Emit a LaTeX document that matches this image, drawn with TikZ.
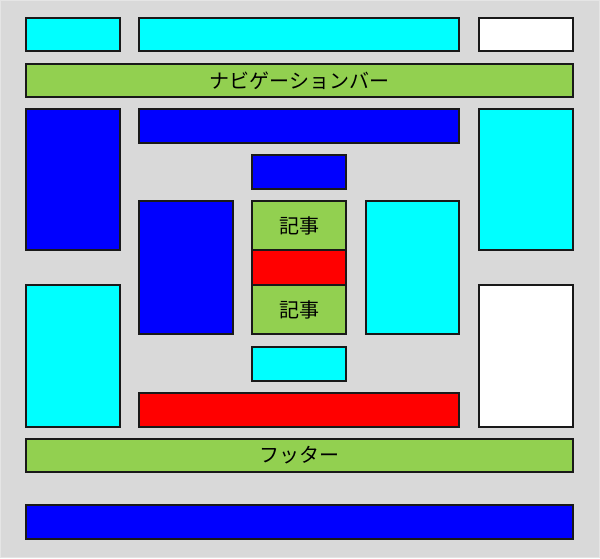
\documentclass[tikz,border=0pt]{standalone}
\usepackage{fontspec}
\newfontfamily\jp{Noto Sans CJK JP}
\definecolor{bg}{HTML}{D9D9D9}
\definecolor{cy}{HTML}{00FFFF}
\definecolor{bl}{HTML}{0000FF}
\definecolor{gr}{HTML}{92D050}
\definecolor{rd}{HTML}{FF0000}
\tikzset{
  box/.style={draw=black!90, line width=1.5pt, inner sep=0pt},
  lbl/.style={font=\jp\fontsize{20}{20}\selectfont, text=black}
}
\begin{document}
\begin{tikzpicture}[x=1pt,y=-1pt]
\useasboundingbox (0,0) rectangle (600,558);
\fill[bg] (0,0) rectangle (600,558);
\draw[black!10, line width=1pt] (0.5,0.5) rectangle (599.5,557.5);
% row 1
\draw[box, fill=cy] (26,18) rectangle (120,51);
\draw[box, fill=cy] (139,18) rectangle (459,51);
\draw[box, fill=white] (479,18) rectangle (573,51);
% nav bar
\draw[box, fill=gr] (26,64) rectangle (573,97) node[pos=0.5, lbl] (nav) {ナビゲーションバー};
% second row
\draw[box, fill=bl] (26,109) rectangle (120,250);
\draw[box, fill=bl] (139,109) rectangle (459,143);
\draw[box, fill=cy] (479,109) rectangle (573,250);
% center column
\draw[box, fill=bl] (252,155) rectangle (346,189);
\draw[box, fill=bl] (139,201) rectangle (233,334);
\draw[box, fill=gr] (252,201) rectangle (346,250) node[pos=0.5, lbl] (art1) {記事};
\draw[box, fill=rd] (252,250) rectangle (346,285);
\draw[box, fill=gr] (252,285) rectangle (346,334) node[pos=0.5, lbl] (art2) {記事};
\draw[box, fill=cy] (366,201) rectangle (459,334);
% lower side columns
\draw[box, fill=cy] (26,285) rectangle (120,427);
\draw[box, fill=white] (479,285) rectangle (573,427);
\draw[box, fill=cy] (252,347) rectangle (346,381);
\draw[box, fill=rd] (139,393) rectangle (459,427);
% footer
\draw[box, fill=gr] (26,439) rectangle (573,472) node[pos=0.5, lbl] (foot) {フッター};
\draw[box, fill=bl] (26,505) rectangle (573,539);
\end{tikzpicture}
\end{document}
